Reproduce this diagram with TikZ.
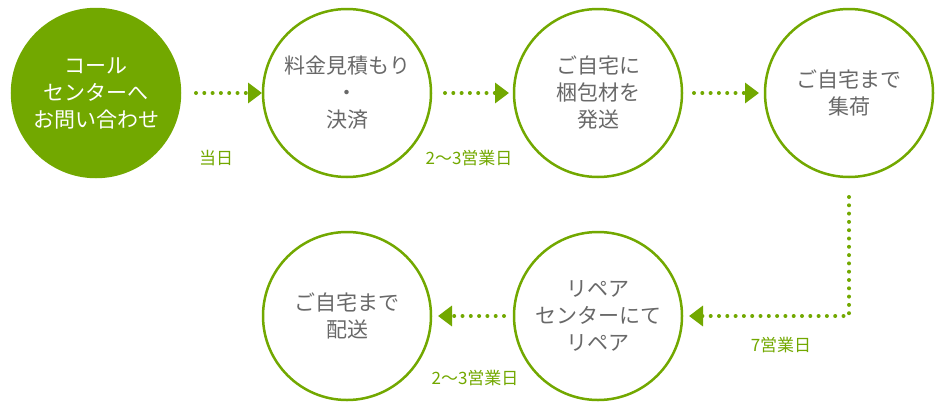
\documentclass[tikz,border=0pt]{standalone}
\usepackage{fontspec}
\setmainfont{Noto Sans CJK JP}
\usetikzlibrary{positioning,arrows.meta}
\definecolor{leaf}{HTML}{72A800}
\definecolor{ink}{HTML}{686868}

\begin{document}
\begin{tikzpicture}[x=1pt,y=-1pt]

        \def\d{83pt}
        \def\v{55pt}

        % Circles of the steps, arrows of dots and the day labels
        \tikzset{
            stage/.style={circle, draw=leaf, line width=2.5pt,
                minimum size=168pt, inner sep=0pt, outer sep=0pt,
                align=center, text=ink,
                font=\fontsize{21}{27}\selectfont},
            first/.style={stage, fill=leaf, text=white},
            flow/.style={draw=leaf, line width=4pt, line cap=round,
                dash pattern=on 0pt off 8.3pt,
                -{Triangle[width=20pt,length=14pt]}},
            days/.style={text=leaf, font=\fontsize{17}{19}\selectfont}
        }

        \useasboundingbox (0,0) rectangle (950,410);

        \begin{scope}
            \node[first] (S1) at (96,93) {コール\\センターへ\\お問い合わせ};
            \node[stage] (S2) [right=\d of S1] {料金見積もり\\・\\決済};
            \node[stage] (S3) [right=\d of S2] {ご自宅に\\梱包材を\\発送};
            \node[stage] (S4) [right=\d of S3] {ご自宅まで\\集荷};
            \node[stage] (S6) [below=\v of S3] {リペア\\センターにて\\リペア};
            \node[stage] (S5) [below=\v of S2] {ご自宅まで\\配送};
        \end{scope}

        \begin{scope}
            \draw[flow, shorten <=16pt, shorten >=1pt] (S1) -- (S2);
            \draw[flow, shorten <=14pt, shorten >=5pt] (S2) -- (S3);
            \draw[flow, shorten <=12pt, shorten >=6pt] (S3) -- (S4);
            \draw[flow, shorten <=20pt, shorten >=7pt] (S4.south) |- (S6.east);
            \draw[flow, shorten <=10pt, shorten >=7pt] (S6) -- (S5);
        \end{scope}

        \node[days] (L1) at (216,158) {当日};
        \node[days] (L2) at (469,158) {2〜3営業日};
        \node[days] (L3) at (781,345) {7営業日};
        \node[days] (L4) at (475,378) {2〜3営業日};

\end{tikzpicture}
\end{document}
